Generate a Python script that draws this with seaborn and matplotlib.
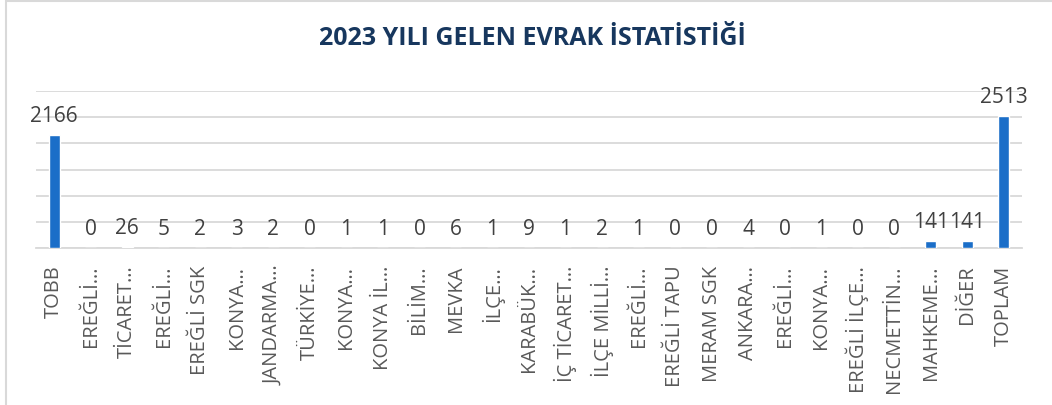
import pandas as pd
import matplotlib.pyplot as plt
import seaborn as sns
from matplotlib.patches import Rectangle

# veriler
kurumlar = ["TOBB", "EREĞLİ…", "TİCARET…", "EREĞLİ…", "EREĞLİ SGK", "KONYA…",
            "JANDARMA…", "TÜRKİYE…", "KONYA…", "KONYA İL…", "BİLİM…", "MEVKA",
            "İLÇE…", "KARABÜK…", "İÇ TİCARET…", "İLÇE MİLLİ…", "EREĞLİ…",
            "EREĞLİ TAPU", "MERAM SGK", "ANKARA…", "EREĞLİ…", "KONYA…",
            "EREĞLİ İLÇE…", "NECMETTİN…", "MAHKEME…", "DİĞER", "TOPLAM"]
evrak_sayisi = [2166, 0, 26, 5, 2, 3, 2, 0, 1, 1, 0, 6, 1, 9, 1, 2, 1, 0, 0, 4,
                0, 1, 0, 0, 141, 141, 2513]

df = pd.DataFrame({"sira": range(len(kurumlar)), "kurum": kurumlar, "adet": evrak_sayisi})

sns.set_theme(style="white")
plt.rcParams['font.family'] = ['Open Sans', 'DejaVu Sans']

fig = plt.figure(figsize=(10.52, 4.06), dpi=100)
ax = fig.add_axes([36 / 1052, 157 / 406, 986 / 1052, 157 / 406])

sns.barplot(data=df, x="sira", y="adet", color="#1b6ec8", width=0.3,
            saturation=1, ax=ax, zorder=3)

ax.set_ylim(0, 3000)
ax.set_yticks(range(0, 3001, 500))
ax.yaxis.grid(True, color="#d9d9d9", linewidth=1.3)
ax.set_axisbelow(True)
ax.tick_params(axis="y", left=False, labelleft=False)
for s in ["left", "right", "top"]:
    ax.spines[s].set_visible(False)
ax.spines["bottom"].set_color("#d9d9d9")
ax.spines["bottom"].set_linewidth(1.3)

ax.set_xticks(df["sira"])
ax.set_xticklabels(df["kurum"], rotation=90, fontsize=14.5, color="#595959")
ax.tick_params(axis="x", length=0, pad=12)
ax.set_xlabel("")
ax.set_ylabel("")

ax.bar_label(ax.containers[0], fmt="%d", padding=6.5, fontsize=15, color="#404040")

fig.text(0.506, 0.905, "2023 YILI GELEN EVRAK İSTATİSTİĞİ", ha="center", va="center",
         fontsize=18, fontweight="bold", color="#17375e")

# çerçeve
fig.patches.append(Rectangle((6 / 1052, -0.1), 1.2, 1.095, transform=fig.transFigure,
                             fill=False, edgecolor="#d9d9d9", linewidth=1.5))

plt.savefig("out.png", dpi=100)
